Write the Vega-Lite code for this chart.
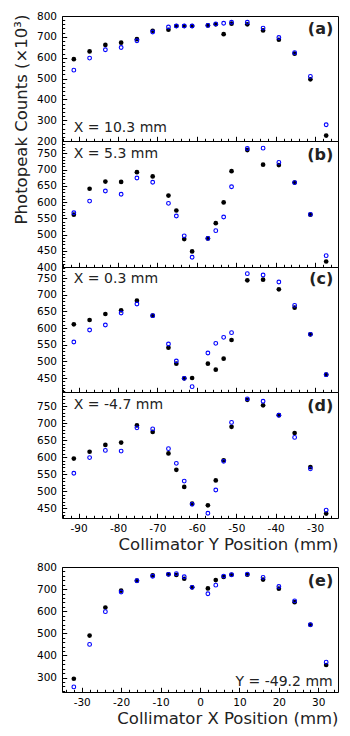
{
"$schema": "https://vega.github.io/schema/vega-lite/v6.json",
"padding": {"left": 12, "top": 10, "right": 5, "bottom": 5},
"config": {
  "font": "DejaVu Sans",
  "view": {"stroke": "black", "strokeWidth": 1},
  "axis": {"grid": false, "domain": false, "tickColor": "black", "tickWidth": 1, "labelFont": "DejaVu Sans", "labelFontSize": 10.5, "labelColor": "black", "labelFlush": false, "labelOverlap": false, "titleFont": "DejaVu Sans", "titleFontSize": 16.5, "titleFontWeight": "normal", "titleColor": "#222", "labelExpr": "replace(datum.label, '\u2212', '-')"},
  "axisX": {"labelPadding": 10.4, "titlePadding": 2},
  "axisY": {"labelPadding": 10.2, "titlePadding": 7},
  "text": {"font": "DejaVu Sans", "color": "#222"}
},
"datasets": {"counts": [
{"panel":"a","series":"Series 1","pos":-91.2,"counts":593},{"panel":"a","series":"Series 1","pos":-87.2,"counts":630},{"panel":"a","series":"Series 1","pos":-83.2,"counts":661},{"panel":"a","series":"Series 1","pos":-79.2,"counts":672},{"panel":"a","series":"Series 1","pos":-75.2,"counts":689},{"panel":"a","series":"Series 1","pos":-71.2,"counts":729},{"panel":"a","series":"Series 1","pos":-67.2,"counts":734},{"panel":"a","series":"Series 1","pos":-65.2,"counts":752},{"panel":"a","series":"Series 1","pos":-63.2,"counts":752},{"panel":"a","series":"Series 1","pos":-61.2,"counts":752},{"panel":"a","series":"Series 1","pos":-57.2,"counts":755},{"panel":"a","series":"Series 1","pos":-55.2,"counts":760},{"panel":"a","series":"Series 1","pos":-53.2,"counts":713},{"panel":"a","series":"Series 1","pos":-51.2,"counts":763},{"panel":"a","series":"Series 1","pos":-47.2,"counts":760},{"panel":"a","series":"Series 1","pos":-43.2,"counts":731},{"panel":"a","series":"Series 1","pos":-39.2,"counts":686},{"panel":"a","series":"Series 1","pos":-35.2,"counts":619},{"panel":"a","series":"Series 1","pos":-31.2,"counts":496},{"panel":"a","series":"Series 1","pos":-27.2,"counts":226},
{"panel":"a","series":"Series 2","pos":-91.2,"counts":540},{"panel":"a","series":"Series 2","pos":-87.2,"counts":598},{"panel":"a","series":"Series 2","pos":-83.2,"counts":638},{"panel":"a","series":"Series 2","pos":-79.2,"counts":649},{"panel":"a","series":"Series 2","pos":-75.2,"counts":681},{"panel":"a","series":"Series 2","pos":-71.2,"counts":723},{"panel":"a","series":"Series 2","pos":-67.2,"counts":747},{"panel":"a","series":"Series 2","pos":-65.2,"counts":752},{"panel":"a","series":"Series 2","pos":-63.2,"counts":752},{"panel":"a","series":"Series 2","pos":-61.2,"counts":752},{"panel":"a","series":"Series 2","pos":-57.2,"counts":755},{"panel":"a","series":"Series 2","pos":-55.2,"counts":762},{"panel":"a","series":"Series 2","pos":-53.2,"counts":765},{"panel":"a","series":"Series 2","pos":-51.2,"counts":770},{"panel":"a","series":"Series 2","pos":-47.2,"counts":770},{"panel":"a","series":"Series 2","pos":-43.2,"counts":742},{"panel":"a","series":"Series 2","pos":-39.2,"counts":697},{"panel":"a","series":"Series 2","pos":-35.2,"counts":624},{"panel":"a","series":"Series 2","pos":-31.2,"counts":510},{"panel":"a","series":"Series 2","pos":-27.2,"counts":278},
{"panel":"b","series":"Series 1","pos":-91.2,"counts":561},{"panel":"b","series":"Series 1","pos":-87.2,"counts":641},{"panel":"b","series":"Series 1","pos":-83.2,"counts":663},{"panel":"b","series":"Series 1","pos":-79.2,"counts":662},{"panel":"b","series":"Series 1","pos":-75.2,"counts":692},{"panel":"b","series":"Series 1","pos":-71.2,"counts":679},{"panel":"b","series":"Series 1","pos":-67.2,"counts":620},{"panel":"b","series":"Series 1","pos":-65.2,"counts":574},{"panel":"b","series":"Series 1","pos":-63.2,"counts":486},{"panel":"b","series":"Series 1","pos":-61.2,"counts":448},{"panel":"b","series":"Series 1","pos":-57.2,"counts":488},{"panel":"b","series":"Series 1","pos":-55.2,"counts":535},{"panel":"b","series":"Series 1","pos":-53.2,"counts":599},{"panel":"b","series":"Series 1","pos":-51.2,"counts":695},{"panel":"b","series":"Series 1","pos":-47.2,"counts":760},{"panel":"b","series":"Series 1","pos":-43.2,"counts":715},{"panel":"b","series":"Series 1","pos":-39.2,"counts":714},{"panel":"b","series":"Series 1","pos":-35.2,"counts":660},{"panel":"b","series":"Series 1","pos":-31.2,"counts":561},{"panel":"b","series":"Series 1","pos":-27.2,"counts":417},
{"panel":"b","series":"Series 2","pos":-91.2,"counts":567},{"panel":"b","series":"Series 2","pos":-87.2,"counts":603},{"panel":"b","series":"Series 2","pos":-83.2,"counts":634},{"panel":"b","series":"Series 2","pos":-79.2,"counts":624},{"panel":"b","series":"Series 2","pos":-75.2,"counts":674},{"panel":"b","series":"Series 2","pos":-71.2,"counts":661},{"panel":"b","series":"Series 2","pos":-67.2,"counts":596},{"panel":"b","series":"Series 2","pos":-65.2,"counts":557},{"panel":"b","series":"Series 2","pos":-63.2,"counts":496},{"panel":"b","series":"Series 2","pos":-61.2,"counts":430},{"panel":"b","series":"Series 2","pos":-57.2,"counts":488},{"panel":"b","series":"Series 2","pos":-55.2,"counts":512},{"panel":"b","series":"Series 2","pos":-53.2,"counts":554},{"panel":"b","series":"Series 2","pos":-51.2,"counts":647},{"panel":"b","series":"Series 2","pos":-47.2,"counts":765},{"panel":"b","series":"Series 2","pos":-43.2,"counts":766},{"panel":"b","series":"Series 2","pos":-39.2,"counts":722},{"panel":"b","series":"Series 2","pos":-35.2,"counts":660},{"panel":"b","series":"Series 2","pos":-31.2,"counts":562},{"panel":"b","series":"Series 2","pos":-27.2,"counts":435},
{"panel":"c","series":"Series 1","pos":-91.2,"counts":611},{"panel":"c","series":"Series 1","pos":-87.2,"counts":624},{"panel":"c","series":"Series 1","pos":-83.2,"counts":642},{"panel":"c","series":"Series 1","pos":-79.2,"counts":653},{"panel":"c","series":"Series 1","pos":-75.2,"counts":682},{"panel":"c","series":"Series 1","pos":-71.2,"counts":637},{"panel":"c","series":"Series 1","pos":-67.2,"counts":541},{"panel":"c","series":"Series 1","pos":-65.2,"counts":493},{"panel":"c","series":"Series 1","pos":-63.2,"counts":449},{"panel":"c","series":"Series 1","pos":-61.2,"counts":450},{"panel":"c","series":"Series 1","pos":-57.2,"counts":493},{"panel":"c","series":"Series 1","pos":-55.2,"counts":475},{"panel":"c","series":"Series 1","pos":-53.2,"counts":508},{"panel":"c","series":"Series 1","pos":-51.2,"counts":564},{"panel":"c","series":"Series 1","pos":-47.2,"counts":743},{"panel":"c","series":"Series 1","pos":-43.2,"counts":745},{"panel":"c","series":"Series 1","pos":-39.2,"counts":716},{"panel":"c","series":"Series 1","pos":-35.2,"counts":661},{"panel":"c","series":"Series 1","pos":-31.2,"counts":581},{"panel":"c","series":"Series 1","pos":-27.2,"counts":460},
{"panel":"c","series":"Series 2","pos":-91.2,"counts":558},{"panel":"c","series":"Series 2","pos":-87.2,"counts":594},{"panel":"c","series":"Series 2","pos":-83.2,"counts":609},{"panel":"c","series":"Series 2","pos":-79.2,"counts":645},{"panel":"c","series":"Series 2","pos":-75.2,"counts":672},{"panel":"c","series":"Series 2","pos":-71.2,"counts":637},{"panel":"c","series":"Series 2","pos":-67.2,"counts":552},{"panel":"c","series":"Series 2","pos":-65.2,"counts":501},{"panel":"c","series":"Series 2","pos":-63.2,"counts":449},{"panel":"c","series":"Series 2","pos":-61.2,"counts":424},{"panel":"c","series":"Series 2","pos":-57.2,"counts":525},{"panel":"c","series":"Series 2","pos":-55.2,"counts":554},{"panel":"c","series":"Series 2","pos":-53.2,"counts":572},{"panel":"c","series":"Series 2","pos":-51.2,"counts":586},{"panel":"c","series":"Series 2","pos":-47.2,"counts":763},{"panel":"c","series":"Series 2","pos":-43.2,"counts":759},{"panel":"c","series":"Series 2","pos":-39.2,"counts":738},{"panel":"c","series":"Series 2","pos":-35.2,"counts":668},{"panel":"c","series":"Series 2","pos":-31.2,"counts":581},{"panel":"c","series":"Series 2","pos":-27.2,"counts":460},
{"panel":"d","series":"Series 1","pos":-91.2,"counts":596},{"panel":"d","series":"Series 1","pos":-87.2,"counts":616},{"panel":"d","series":"Series 1","pos":-83.2,"counts":636},{"panel":"d","series":"Series 1","pos":-79.2,"counts":643},{"panel":"d","series":"Series 1","pos":-75.2,"counts":693},{"panel":"d","series":"Series 1","pos":-71.2,"counts":674},{"panel":"d","series":"Series 1","pos":-67.2,"counts":611},{"panel":"d","series":"Series 1","pos":-65.2,"counts":563},{"panel":"d","series":"Series 1","pos":-63.2,"counts":513},{"panel":"d","series":"Series 1","pos":-61.2,"counts":464},{"panel":"d","series":"Series 1","pos":-57.2,"counts":459},{"panel":"d","series":"Series 1","pos":-55.2,"counts":532},{"panel":"d","series":"Series 1","pos":-53.2,"counts":591},{"panel":"d","series":"Series 1","pos":-51.2,"counts":689},{"panel":"d","series":"Series 1","pos":-47.2,"counts":768},{"panel":"d","series":"Series 1","pos":-43.2,"counts":752},{"panel":"d","series":"Series 1","pos":-39.2,"counts":723},{"panel":"d","series":"Series 1","pos":-35.2,"counts":671},{"panel":"d","series":"Series 1","pos":-31.2,"counts":571},{"panel":"d","series":"Series 1","pos":-27.2,"counts":435},
{"panel":"d","series":"Series 2","pos":-91.2,"counts":553},{"panel":"d","series":"Series 2","pos":-87.2,"counts":599},{"panel":"d","series":"Series 2","pos":-83.2,"counts":620},{"panel":"d","series":"Series 2","pos":-79.2,"counts":618},{"panel":"d","series":"Series 2","pos":-75.2,"counts":686},{"panel":"d","series":"Series 2","pos":-71.2,"counts":683},{"panel":"d","series":"Series 2","pos":-67.2,"counts":625},{"panel":"d","series":"Series 2","pos":-65.2,"counts":582},{"panel":"d","series":"Series 2","pos":-63.2,"counts":530},{"panel":"d","series":"Series 2","pos":-61.2,"counts":462},{"panel":"d","series":"Series 2","pos":-57.2,"counts":436},{"panel":"d","series":"Series 2","pos":-55.2,"counts":504},{"panel":"d","series":"Series 2","pos":-53.2,"counts":588},{"panel":"d","series":"Series 2","pos":-51.2,"counts":702},{"panel":"d","series":"Series 2","pos":-47.2,"counts":771},{"panel":"d","series":"Series 2","pos":-43.2,"counts":764},{"panel":"d","series":"Series 2","pos":-39.2,"counts":723},{"panel":"d","series":"Series 2","pos":-35.2,"counts":658},{"panel":"d","series":"Series 2","pos":-31.2,"counts":566},{"panel":"d","series":"Series 2","pos":-27.2,"counts":445},
{"panel":"e","series":"Series 1","pos":-32,"counts":295},{"panel":"e","series":"Series 1","pos":-28,"counts":490},{"panel":"e","series":"Series 1","pos":-24,"counts":617},{"panel":"e","series":"Series 1","pos":-20,"counts":693},{"panel":"e","series":"Series 1","pos":-16,"counts":738},{"panel":"e","series":"Series 1","pos":-12,"counts":762},{"panel":"e","series":"Series 1","pos":-8,"counts":767},{"panel":"e","series":"Series 1","pos":-6,"counts":764},{"panel":"e","series":"Series 1","pos":-4,"counts":747},{"panel":"e","series":"Series 1","pos":-2,"counts":708},{"panel":"e","series":"Series 1","pos":2,"counts":703},{"panel":"e","series":"Series 1","pos":4,"counts":741},{"panel":"e","series":"Series 1","pos":6,"counts":755},{"panel":"e","series":"Series 1","pos":8,"counts":765},{"panel":"e","series":"Series 1","pos":12,"counts":765},{"panel":"e","series":"Series 1","pos":16,"counts":743},{"panel":"e","series":"Series 1","pos":20,"counts":702},{"panel":"e","series":"Series 1","pos":24,"counts":641},{"panel":"e","series":"Series 1","pos":28,"counts":539},{"panel":"e","series":"Series 1","pos":32,"counts":357},
{"panel":"e","series":"Series 2","pos":-32,"counts":258},{"panel":"e","series":"Series 2","pos":-28,"counts":450},{"panel":"e","series":"Series 2","pos":-24,"counts":598},{"panel":"e","series":"Series 2","pos":-20,"counts":687},{"panel":"e","series":"Series 2","pos":-16,"counts":738},{"panel":"e","series":"Series 2","pos":-12,"counts":758},{"panel":"e","series":"Series 2","pos":-8,"counts":767},{"panel":"e","series":"Series 2","pos":-6,"counts":770},{"panel":"e","series":"Series 2","pos":-4,"counts":756},{"panel":"e","series":"Series 2","pos":-2,"counts":708},{"panel":"e","series":"Series 2","pos":2,"counts":679},{"panel":"e","series":"Series 2","pos":4,"counts":718},{"panel":"e","series":"Series 2","pos":6,"counts":759},{"panel":"e","series":"Series 2","pos":8,"counts":765},{"panel":"e","series":"Series 2","pos":12,"counts":768},{"panel":"e","series":"Series 2","pos":16,"counts":753},{"panel":"e","series":"Series 2","pos":20,"counts":712},{"panel":"e","series":"Series 2","pos":24,"counts":647},{"panel":"e","series":"Series 2","pos":28,"counts":539},{"panel":"e","series":"Series 2","pos":32,"counts":370}
]},
"spacing": 0,
"bounds": "flush",
"vconcat": [
{
 "width": 276, "height": 125,
 "data": {"name": "counts"},
 "transform": [{"filter": "datum.panel === 'a'"}],
 "layer": [
  {"transform": [{"filter": "datum.series === 'Series 1'"}],
   "mark": {"type": "point", "filled": true, "color": "black", "size": 22, "opacity": 1},
   "encoding": {
    "x": {"field": "pos", "type": "quantitative", "scale": {"domain": [-94.2, -24.2], "nice": false, "zero": false}, "axis": {"orient": "bottom", "values": [-90,-80,-70,-60,-50,-40,-30], "labels": false, "title": null, "tickSize": -4.7}},
    "y": {"field": "counts", "type": "quantitative", "scale": {"domain": [200, 800], "nice": false, "zero": false}, "axis": {"orient": "left", "values": [200,300,400,500,600,700,800], "title": "Photopeak Counts (×10³)", "titleY": 103, "tickSize": -4.7}}
   }},
  {"transform": [{"filter": "datum.series === 'Series 2'"}],
   "mark": {"type": "point", "filled": false, "color": "blue", "size": 14, "strokeWidth": 1.1, "opacity": 1},
   "encoding": {
    "x": {"field": "pos", "type": "quantitative", "scale": {"domain": [-94.2, -24.2], "nice": false, "zero": false}, "axis": {"orient": "bottom", "values": [-94,-92,-88,-86,-84,-82,-78,-76,-74,-72,-68,-66,-64,-62,-58,-56,-54,-52,-48,-46,-44,-42,-38,-36,-34,-32,-28,-26], "labels": false, "title": null, "tickSize": -2.7}},
    "y": {"field": "counts", "type": "quantitative", "scale": {"domain": [200, 800], "nice": false, "zero": false}, "axis": {"orient": "left", "values": [220,240,260,280,320,340,360,380,420,440,460,480,520,540,560,580,620,640,660,680,720,740,760,780], "labels": false, "title": null, "tickSize": -2.7}}
   }},
  {"data": {"values": [{}]},
   "mark": {"type": "text", "text": "X = 10.3 mm", "align": "left", "baseline": "alphabetic", "fontSize": 14},
   "encoding": {"x": {"datum": -91.2, "type": "quantitative", "axis": null}, "y": {"datum": 241, "type": "quantitative", "axis": null}}},
  {"data": {"values": [{}]},
   "mark": {"type": "text", "text": "(a)", "align": "right", "baseline": "alphabetic", "fontSize": 16, "fontWeight": "bold"},
   "encoding": {"x": {"datum": -25.4, "type": "quantitative", "axis": null}, "y": {"datum": 712, "type": "quantitative", "axis": null}}}
 ],
 "resolve": {"axis": {"x": "independent", "y": "independent"}}
},
{
 "width": 276, "height": 126,
 "data": {"name": "counts"},
 "transform": [{"filter": "datum.panel === 'b'"}],
 "layer": [
  {"transform": [{"filter": "datum.series === 'Series 1'"}],
   "mark": {"type": "point", "filled": true, "color": "black", "size": 22, "opacity": 1},
   "encoding": {
    "x": {"field": "pos", "type": "quantitative", "scale": {"domain": [-94.2, -24.2], "nice": false, "zero": false}, "axis": {"orient": "bottom", "values": [-90,-80,-70,-60,-50,-40,-30], "labels": false, "title": null, "tickSize": -4.7}},
    "y": {"field": "counts", "type": "quantitative", "scale": {"domain": [400, 788], "nice": false, "zero": false}, "axis": {"orient": "left", "values": [400,450,500,550,600,650,700,750], "title": null, "tickSize": -4.7}}
   }},
  {"transform": [{"filter": "datum.series === 'Series 2'"}],
   "mark": {"type": "point", "filled": false, "color": "blue", "size": 14, "strokeWidth": 1.1, "opacity": 1},
   "encoding": {
    "x": {"field": "pos", "type": "quantitative", "scale": {"domain": [-94.2, -24.2], "nice": false, "zero": false}, "axis": {"orient": "bottom", "values": [-94,-92,-88,-86,-84,-82,-78,-76,-74,-72,-68,-66,-64,-62,-58,-56,-54,-52,-48,-46,-44,-42,-38,-36,-34,-32,-28,-26], "labels": false, "title": null, "tickSize": -2.7}},
    "y": {"field": "counts", "type": "quantitative", "scale": {"domain": [400, 788], "nice": false, "zero": false}, "axis": {"orient": "left", "values": [410,420,430,440,460,470,480,490,510,520,530,540,560,570,580,590,610,620,630,640,660,670,680,690,710,720,730,740,760,770,780], "labels": false, "title": null, "tickSize": -2.7}}
   }},
  {"data": {"values": [{}]},
   "mark": {"type": "text", "text": "X = 5.3 mm", "align": "left", "baseline": "alphabetic", "fontSize": 14},
   "encoding": {"x": {"datum": -91.2, "type": "quantitative", "axis": null}, "y": {"datum": 734.5, "type": "quantitative", "axis": null}}},
  {"data": {"values": [{}]},
   "mark": {"type": "text", "text": "(b)", "align": "right", "baseline": "alphabetic", "fontSize": 16, "fontWeight": "bold"},
   "encoding": {"x": {"datum": -25.4, "type": "quantitative", "axis": null}, "y": {"datum": 730, "type": "quantitative", "axis": null}}}
 ],
 "resolve": {"axis": {"x": "independent", "y": "independent"}}
},
{
 "width": 276, "height": 125,
 "data": {"name": "counts"},
 "transform": [{"filter": "datum.panel === 'c'"}],
 "layer": [
  {"transform": [{"filter": "datum.series === 'Series 1'"}],
   "mark": {"type": "point", "filled": true, "color": "black", "size": 22, "opacity": 1},
   "encoding": {
    "x": {"field": "pos", "type": "quantitative", "scale": {"domain": [-94.2, -24.2], "nice": false, "zero": false}, "axis": {"orient": "bottom", "values": [-90,-80,-70,-60,-50,-40,-30], "labels": false, "title": null, "tickSize": -4.7}},
    "y": {"field": "counts", "type": "quantitative", "scale": {"domain": [408, 783], "nice": false, "zero": false}, "axis": {"orient": "left", "values": [450,500,550,600,650,700,750], "title": null, "tickSize": -4.7}}
   }},
  {"transform": [{"filter": "datum.series === 'Series 2'"}],
   "mark": {"type": "point", "filled": false, "color": "blue", "size": 14, "strokeWidth": 1.1, "opacity": 1},
   "encoding": {
    "x": {"field": "pos", "type": "quantitative", "scale": {"domain": [-94.2, -24.2], "nice": false, "zero": false}, "axis": {"orient": "bottom", "values": [-94,-92,-88,-86,-84,-82,-78,-76,-74,-72,-68,-66,-64,-62,-58,-56,-54,-52,-48,-46,-44,-42,-38,-36,-34,-32,-28,-26], "labels": false, "title": null, "tickSize": -2.7}},
    "y": {"field": "counts", "type": "quantitative", "scale": {"domain": [408, 783], "nice": false, "zero": false}, "axis": {"orient": "left", "values": [410,420,430,440,460,470,480,490,510,520,530,540,560,570,580,590,610,620,630,640,660,670,680,690,710,720,730,740,760,770,780], "labels": false, "title": null, "tickSize": -2.7}}
   }},
  {"data": {"values": [{}]},
   "mark": {"type": "text", "text": "X = 0.3 mm", "align": "left", "baseline": "alphabetic", "fontSize": 14},
   "encoding": {"x": {"datum": -91.2, "type": "quantitative", "axis": null}, "y": {"datum": 734, "type": "quantitative", "axis": null}}},
  {"data": {"values": [{}]},
   "mark": {"type": "text", "text": "(c)", "align": "right", "baseline": "alphabetic", "fontSize": 16, "fontWeight": "bold"},
   "encoding": {"x": {"datum": -25.4, "type": "quantitative", "axis": null}, "y": {"datum": 731, "type": "quantitative", "axis": null}}}
 ],
 "resolve": {"axis": {"x": "independent", "y": "independent"}}
},
{
 "width": 276, "height": 126,
 "data": {"name": "counts"},
 "transform": [{"filter": "datum.panel === 'd'"}],
 "layer": [
  {"transform": [{"filter": "datum.series === 'Series 1'"}],
   "mark": {"type": "point", "filled": true, "color": "black", "size": 22, "opacity": 1},
   "encoding": {
    "x": {"field": "pos", "type": "quantitative", "scale": {"domain": [-94.2, -24.2], "nice": false, "zero": false}, "axis": {"orient": "bottom", "values": [-90,-80,-70,-60,-50,-40,-30], "title": "Collimator Y Position (mm)", "titleAnchor": "end", "tickSize": -4.7}},
    "y": {"field": "counts", "type": "quantitative", "scale": {"domain": [422, 791], "nice": false, "zero": false}, "axis": {"orient": "left", "values": [450,500,550,600,650,700,750], "title": null, "tickSize": -4.7}}
   }},
  {"transform": [{"filter": "datum.series === 'Series 2'"}],
   "mark": {"type": "point", "filled": false, "color": "blue", "size": 14, "strokeWidth": 1.1, "opacity": 1},
   "encoding": {
    "x": {"field": "pos", "type": "quantitative", "scale": {"domain": [-94.2, -24.2], "nice": false, "zero": false}, "axis": {"orient": "bottom", "values": [-94,-92,-88,-86,-84,-82,-78,-76,-74,-72,-68,-66,-64,-62,-58,-56,-54,-52,-48,-46,-44,-42,-38,-36,-34,-32,-28,-26], "labels": false, "title": null, "tickSize": -2.7}},
    "y": {"field": "counts", "type": "quantitative", "scale": {"domain": [422, 791], "nice": false, "zero": false}, "axis": {"orient": "left", "values": [430,440,460,470,480,490,510,520,530,540,560,570,580,590,610,620,630,640,660,670,680,690,710,720,730,740,760,770,780,790], "labels": false, "title": null, "tickSize": -2.7}}
   }},
  {"data": {"values": [{}]},
   "mark": {"type": "text", "text": "X = -4.7 mm", "align": "left", "baseline": "alphabetic", "fontSize": 14},
   "encoding": {"x": {"datum": -91.2, "type": "quantitative", "axis": null}, "y": {"datum": 741, "type": "quantitative", "axis": null}}},
  {"data": {"values": [{}]},
   "mark": {"type": "text", "text": "(d)", "align": "right", "baseline": "alphabetic", "fontSize": 16, "fontWeight": "bold"},
   "encoding": {"x": {"datum": -25.4, "type": "quantitative", "axis": null}, "y": {"datum": 736, "type": "quantitative", "axis": null}}}
 ],
 "resolve": {"axis": {"x": "independent", "y": "independent"}}
},
{
 "width": 276, "height": 49,
 "view": {"stroke": null},
 "data": {"values": []},
 "mark": "point"
},
{
 "width": 276, "height": 125,
 "data": {"name": "counts"},
 "transform": [{"filter": "datum.panel === 'e'"}],
 "layer": [
  {"transform": [{"filter": "datum.series === 'Series 1'"}],
   "mark": {"type": "point", "filled": true, "color": "black", "size": 22, "opacity": 1},
   "encoding": {
    "x": {"field": "pos", "type": "quantitative", "scale": {"domain": [-35, 35], "nice": false, "zero": false}, "axis": {"orient": "bottom", "values": [-30,-20,-10,0,10,20,30], "title": "Collimator X Position (mm)", "titleAnchor": "end", "tickSize": -4.7}},
    "y": {"field": "counts", "type": "quantitative", "scale": {"domain": [235, 800], "nice": false, "zero": false}, "axis": {"orient": "left", "values": [300,400,500,600,700,800], "title": null, "tickSize": -4.7}}
   }},
  {"transform": [{"filter": "datum.series === 'Series 2'"}],
   "mark": {"type": "point", "filled": false, "color": "blue", "size": 14, "strokeWidth": 1.1, "opacity": 1},
   "encoding": {
    "x": {"field": "pos", "type": "quantitative", "scale": {"domain": [-35, 35], "nice": false, "zero": false}, "axis": {"orient": "bottom", "values": [-34,-32,-28,-26,-24,-22,-18,-16,-14,-12,-8,-6,-4,-2,2,4,6,8,12,14,16,18,22,24,26,28,32,34], "labels": false, "title": null, "tickSize": -2.7}},
    "y": {"field": "counts", "type": "quantitative", "scale": {"domain": [235, 800], "nice": false, "zero": false}, "axis": {"orient": "left", "values": [240,260,280,320,340,360,380,420,440,460,480,520,540,560,580,620,640,660,680,720,740,760,780], "labels": false, "title": null, "tickSize": -2.7}}
   }},
  {"data": {"values": [{}]},
   "mark": {"type": "text", "text": "Y = -49.2 mm", "align": "right", "baseline": "alphabetic", "fontSize": 14},
   "encoding": {"x": {"datum": 33.65, "type": "quantitative", "axis": null}, "y": {"datum": 264, "type": "quantitative", "axis": null}}},
  {"data": {"values": [{}]},
   "mark": {"type": "text", "text": "(e)", "align": "right", "baseline": "alphabetic", "fontSize": 16, "fontWeight": "bold"},
   "encoding": {"x": {"datum": 33.8, "type": "quantitative", "axis": null}, "y": {"datum": 714, "type": "quantitative", "axis": null}}}
 ],
 "resolve": {"axis": {"x": "independent", "y": "independent"}}
}
]
}
